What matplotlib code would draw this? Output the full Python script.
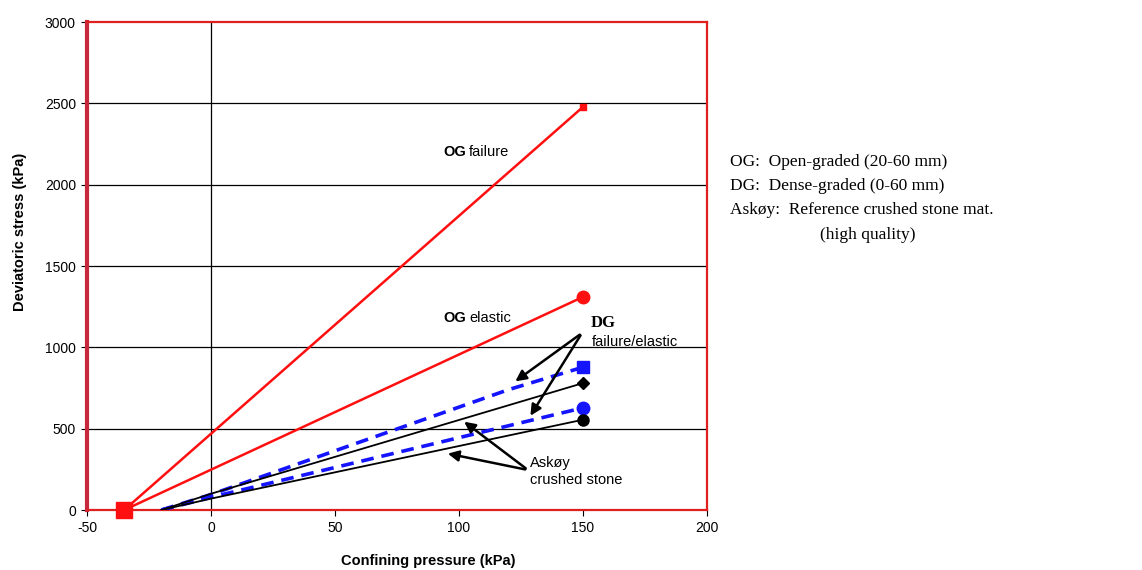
import matplotlib.pyplot as plt

# confining pressure (kPa) / deviatoric stress (kPa)
og_fail_x = [-35, 150]
og_fail_y = [0, 2478]
og_elas_x = [-35, 150]
og_elas_y = [0, 1310]
dg_fail_x = [-20, 0, 120, 150]
dg_fail_y = [0, 95, 740, 878]
dg_elas_x = [-20, 0, 150]
dg_elas_y = [0, 78, 628]
ask_fail_x = [-20, 0, 150]
ask_fail_y = [0, 100, 780]
ask_elas_x = [-20, 0, 150]
ask_elas_y = [0, 70, 555]

xticks = [-50, 0, 50, 100, 150, 200]
yticks = [0, 500, 1000, 1500, 2000, 2500, 3000]

legend_lines = ["OG:  Open-graded (20-60 mm)",
                "DG:  Dense-graded (0-60 mm)",
                "Askøy:  Reference crushed stone mat.",
                "(high quality)"]

plt.rcParams['font.family'] = ['Liberation Sans', 'DejaVu Sans']
plt.rcParams['axes.unicode_minus'] = False

fig = plt.figure(figsize=(11.42, 5.70), dpi=100)
ax = fig.add_axes([87/1142, 60/570, 620/1142, 488/570])

ax.set_xlim(-50, 200)
ax.set_ylim(0, 3000)

for v in yticks[1:-1]:
    ax.axhline(v, color='black', lw=0.9, zorder=1)
ax.axvline(0, color='black', lw=0.9, zorder=1)

red = '#ff0f0f'
blue = '#1414ff'
ax.plot(og_fail_x, og_fail_y, color=red, lw=1.8, zorder=3)
ax.plot(og_fail_x[-1], og_fail_y[-1], 's', color=red, ms=5, zorder=4)
ax.plot(og_elas_x, og_elas_y, color=red, lw=1.8, zorder=3)
ax.plot(og_elas_x[-1], og_elas_y[-1], 'o', color=red, ms=9, zorder=4)
ax.plot(og_fail_x[0], og_fail_y[0], 's', color=red, ms=11, zorder=5, clip_on=False)

ax.plot(dg_fail_x, dg_fail_y, color=blue, lw=2.6, dashes=(3.5, 2.2), zorder=3)
ax.plot(dg_fail_x[-1], dg_fail_y[-1], 's', color=blue, ms=8, zorder=4)
ax.plot(dg_elas_x, dg_elas_y, color=blue, lw=2.6, dashes=(3.5, 2.2), zorder=3)
ax.plot(dg_elas_x[-1], dg_elas_y[-1], 'o', color=blue, ms=9, zorder=4)

ax.plot(ask_fail_x, ask_fail_y, color='black', lw=1.3, zorder=3)
ax.plot(ask_fail_x[-1], ask_fail_y[-1], 'D', color='black', ms=6, zorder=4)
ax.plot(ask_elas_x, ask_elas_y, color='black', lw=1.3, zorder=3)
ax.plot(ask_elas_x[-1], ask_elas_y[-1], 'o', color='black', ms=8, zorder=4)

# labels inside the plot
fs = 10.5


def bold_then_plain(x, y, bold, plain):
    t = ax.text(x, y, bold, fontsize=fs, fontweight='bold', va='center')
    ax.annotate(plain, xy=(1, 0.5), xycoords=t, xytext=(2.5, 0),
                textcoords='offset points', fontsize=fs, va='center')


bold_then_plain(93.5, 2200, "OG", "failure")
bold_then_plain(93.5, 1180, "OG", "elastic")
ax.text(153, 1150, "DG", fontsize=12, fontweight='bold', family='Liberation Serif',
        va='center')
ax.text(153.5, 1033, "failure/elastic", fontsize=fs, va='center')
ax.text(128.6, 289, "Askøy", fontsize=fs, va='center')
ax.text(128.6, 184, "crushed stone", fontsize=fs, va='center')

arr = dict(arrowstyle='-|>', color='black', lw=1.8, mutation_scale=16)
for tx, ty in [(121.8, 781), (128.2, 565)]:
    ax.annotate("", xy=(tx, ty), xytext=(149.6, 1088), arrowprops=arr, zorder=6)
for tx, ty in [(101.2, 553), (94.4, 350)]:
    ax.annotate("", xy=(tx, ty), xytext=(127.8, 246), arrowprops=arr, zorder=6)

ax.set_xticks(xticks)
ax.set_yticks(yticks)
ax.tick_params(direction='out', length=4, width=0.8, color='black', labelsize=10, pad=4)

for s in ['top', 'right', 'bottom']:
    ax.spines[s].set_color('#e02020')
    ax.spines[s].set_linewidth(1.6)
ax.spines['left'].set_color('#c8283c')
ax.spines['left'].set_linewidth(3)

fig.text(20/1142, 1 - 232/570, "Deviatoric stress (kPa)", rotation=90, fontsize=10.5,
         fontweight='bold', ha='center', va='center')
fig.text(428/1142, 1 - 561/570, "Confining pressure (kPa)", fontsize=10.5,
         fontweight='bold', ha='center', va='center')

ys = [162, 186, 210, 235]
xs = [730, 730, 730, 820]
for t, px, py in zip(legend_lines, xs, ys):
    fig.text(px/1142, 1 - py/570, t, fontsize=12.5, family='Liberation Serif',
             ha='left', va='center')

fig.savefig('out.png', dpi=100)
